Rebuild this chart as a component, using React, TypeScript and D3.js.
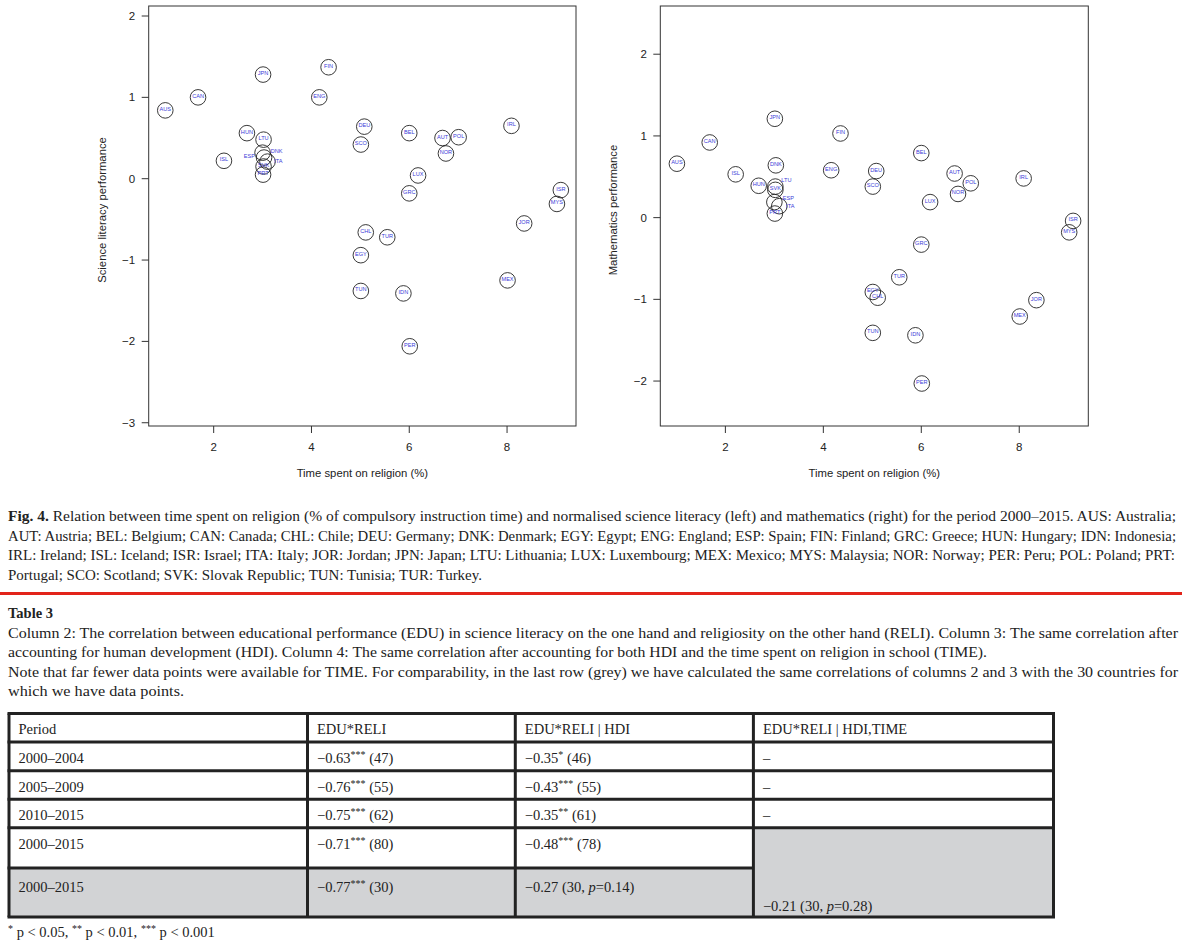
import React from 'react';
import * as d3 from 'd3';

const W = 1182;
const H = 951;

// ---- scatter data ----
const countries = ["AUS","CAN","JPN","FIN","ENG","HUN","LTU","ISL","ESP","DNK","ITA","SVK","PRT","DEU","SCO","BEL","AUT","POL","NOR","IRL","LUX","GRC","ISR","MYS","JOR","CHL","TUR","EGY","MEX","TUN","IDN","PER"];
const timeOnReligion = [1.01,1.68,3.01,4.35,4.16,2.68,3.02,2.21,3.0,3.03,3.1,3.02,3.01,5.08,5.01,6.0,6.68,7.01,6.75,8.09,6.18,6.0,9.1,9.02,8.35,5.11,5.55,5.01,8.01,5.01,5.88,6.01];
const sciencePerf = [0.84,1.0,1.28,1.37,1.0,0.56,0.48,0.22,0.32,0.26,0.21,0.15,0.05,0.64,0.42,0.56,0.50,0.51,0.31,0.65,0.04,-0.18,-0.14,-0.31,-0.55,-0.66,-0.72,-0.94,-1.25,-1.38,-1.41,-2.06];
const mathPerf = [0.66,0.92,1.21,1.03,0.58,0.39,0.38,0.53,0.19,0.64,0.14,0.34,0.05,0.57,0.38,0.79,0.54,0.42,0.29,0.48,0.19,-0.33,-0.04,-0.18,-1.01,-0.98,-0.73,-0.91,-1.21,-1.41,-1.44,-2.03];
const xTicks = [2,4,6,8];
const sciYTicks = [-3,-2,-1,0,1,2];
const mathYTicks = [-2,-1,0,1,2];

// label nudges (px) for crowded points
const sciNudge: Record<string, [number, number]> = { DNK: [12.6,-7], ESP: [-13.3,3], ITA: [11,-1] };
const mathNudge: Record<string, [number, number]> = { LTU: [11,-6.4], ESP: [14,-4], ITA: [11,-0.6] };

// ---- caption / table text ----
const captionLines = [
  "Relation between time spent on religion (% of compulsory instruction time) and normalised science literacy (left) and mathematics (right) for the period 2000–2015. AUS: Australia;",
  "AUT: Austria; BEL: Belgium; CAN: Canada; CHL: Chile; DEU: Germany; DNK: Denmark; EGY: Egypt; ENG: England; ESP: Spain; FIN: Finland; GRC: Greece; HUN: Hungary; IDN: Indonesia;",
  "IRL: Ireland; ISL: Iceland; ISR: Israel; ITA: Italy; JOR: Jordan; JPN: Japan; LTU: Lithuania; LUX: Luxembourg; MEX: Mexico; MYS: Malaysia; NOR: Norway; PER: Peru; POL: Poland; PRT:",
  "Portugal; SCO: Scotland; SVK: Slovak Republic; TUN: Tunisia; TUR: Turkey."
];
const captionWidths = [1168, 1168, 1167, 474];
const tableDescLines = [
  "Column 2: The correlation between educational performance (EDU) in science literacy on the one hand and religiosity on the other hand (RELI). Column 3: The same correlation after",
  "accounting for human development (HDI). Column 4: The same correlation after accounting for both HDI and the time spent on religion in school (TIME).",
  "Note that far fewer data points were available for TIME. For comparability, in the last row (grey) we have calculated the same correlations of columns 2 and 3 with the 30 countries for",
  "which we have data points."
];
const tableDescWidths = [1170, 979, 1170, 176];

const headers = ["Period", "EDU*RELI", "EDU*RELI | HDI", "EDU*RELI | HDI,TIME"];
const periods = ["2000–2004","2005–2009","2010–2015","2000–2015","2000–2015"];
const reliR = [-0.63,-0.76,-0.75,-0.71,-0.77];
const reliStars = ["***","***","***","***","***"];
const reliN = [47,55,62,80,30];
const hdiR = [-0.35,-0.43,-0.35,-0.48,-0.27];
const hdiStars = ["*","***","**","***",""];
const hdiN = [46,55,61,78,30];
const hdiP = [null,null,null,null,0.14];
const timeR = [null,null,null];
const mergedTimeR = -0.21;
const mergedTimeN = 30;
const mergedTimeP = 0.28;

const fmt = d3.format(".2f");
const sans = "'Liberation Sans', Arial, Helvetica, sans-serif";
const serif = "'Liberation Serif', 'Times New Roman', serif";
const ink = "#222";

function Scatter({ left, right, yDomain, yTicks, values, nudge, yTitle }: any) {
  const top = 6, bottom = 426;
  const x = d3.scaleLinear().domain([0.671, 9.41]).range([left, right]);
  const y = d3.scaleLinear().domain(yDomain).range([bottom, top]);
  const yfmt = d3.format("d");
  return (
    <g>
      <rect x={left} y={top} width={right - left} height={bottom - top} fill="none" stroke="#333" strokeWidth={1} />
      {xTicks.map(t => (
        <g key={"x" + t}>
          <line x1={x(t)} x2={x(t)} y1={bottom} y2={bottom + 7} stroke="#333" />
          <text x={x(t)} y={447} textAnchor="middle" dominantBaseline="central" fontFamily={sans} fontSize={11.5} fill={ink}>{yfmt(t)}</text>
        </g>
      ))}
      {yTicks.map((t: number) => (
        <g key={"y" + t}>
          <line x1={left - 7} x2={left} y1={y(t)} y2={y(t)} stroke="#333" />
          <text x={left - 13.5} y={y(t)} textAnchor="end" dominantBaseline="central" fontFamily={sans} fontSize={11.5} fill={ink}>{yfmt(t)}</text>
        </g>
      ))}
      <text x={(left + right) / 2} y={473} textAnchor="middle" dominantBaseline="central" fontFamily={sans} fontSize={11.3} fill={ink}>Time spent on religion (%)</text>
      <text transform={`translate(${left - 47},210) rotate(-90)`} textAnchor="middle" dominantBaseline="central" fontFamily={sans} fontSize={11.3} fill={ink}>{yTitle}</text>
      {countries.map((c, i) => (
        <circle key={"c" + c} cx={x(timeOnReligion[i])} cy={y(values[i])} r={7.8} fill="none" stroke="#222" strokeWidth={0.9} />
      ))}
      {countries.map((c, i) => {
        const n = nudge[c] || [0, -1.5];
        return (
          <text key={"t" + c} x={x(timeOnReligion[i]) + n[0]} y={y(values[i]) + n[1]} textAnchor="middle" dominantBaseline="central" fontFamily={sans} fontSize={5.6} fill="#3b3bd8">{c}</text>
        );
      })}
    </g>
  );
}

function Sup({ base, stars, rest }: any) {
  return (
    <>
      {base}
      {stars ? <tspan fontSize={10} dy={-5}>{stars}</tspan> : null}
      {stars ? <tspan dy={5}>{rest}</tspan> : <tspan>{rest}</tspan>}
    </>
  );
}

function Table() {
  const colX = [9, 307.5, 515.3, 753.4, 1053.5];
  const rowY = [713.5, 742, 770.7, 799.2, 827.7, 868, 917];
  const textBase = [734, 763, 791.5, 820, 849.3, 891.7];
  const grey = "#d2d3d5";
  const fs = 14.5;
  const lw = 3;
  const cellText = (col: number, row: number, content: any) => (
    <text key={`ct${col}-${row}`} x={colX[col] + 9.5} y={textBase[row]} fontFamily={serif} fontSize={fs} fill={ink}>{content}</text>
  );
  return (
    <g>
      {/* grey fills */}
      <rect x={colX[0]} y={rowY[5]} width={colX[3] - colX[0]} height={rowY[6] - rowY[5]} fill={grey} />
      <rect x={colX[3]} y={rowY[4]} width={colX[4] - colX[3]} height={rowY[6] - rowY[4]} fill={grey} />
      {/* horizontal lines */}
      {rowY.map((yy, i) => (
        <line key={"h" + i} x1={colX[0] - lw / 2} x2={i === 5 ? colX[3] : colX[4] + lw / 2} y1={yy} y2={yy} stroke={ink} strokeWidth={lw} />
      ))}
      {/* vertical lines */}
      {colX.map((xx, i) => (
        <line key={"v" + i} x1={xx} x2={xx} y1={rowY[0]} y2={rowY[6]} stroke={ink} strokeWidth={lw} />
      ))}
      {headers.map((h, i) => cellText(i, 0, h))}
      {periods.map((p, r) => cellText(0, r + 1, p))}
      {reliR.map((v, r) => cellText(1, r + 1, <Sup base={fmt(v)} stars={reliStars[r]} rest={` (${reliN[r]})`} />))}
      {hdiR.map((v, r) => cellText(2, r + 1,
        hdiP[r] == null
          ? <Sup base={fmt(v)} stars={hdiStars[r]} rest={` (${hdiN[r]})`} />
          : <>{fmt(v)} ({hdiN[r]}, <tspan fontStyle="italic">p</tspan>={hdiP[r]})</>
      ))}
      {timeR.map((v, r) => cellText(3, r + 1, v == null ? "–" : fmt(v)))}
      <text x={colX[3] + 9.5} y={910.7} fontFamily={serif} fontSize={fs} fill={ink}>
        {fmt(mergedTimeR)} ({mergedTimeN}, <tspan fontStyle="italic">p</tspan>={mergedTimeP})
      </text>
    </g>
  );
}

export default function App() {
  const capBase = [521, 540.5, 560, 579.5];
  const descBase = [637.5, 657, 676.5, 696];
  return (
    <svg width={W} height={H} viewBox={`0 0 ${W} ${H}`} style={{ position: 'absolute', left: 0, top: 0, background: '#fff' }}>
      <rect x={0} y={0} width={W} height={H} fill="#fff" />
      <Scatter left={148.7} right={576} yDomain={[-3.04, 2.123]} yTicks={sciYTicks} values={sciencePerf} nudge={sciNudge} yTitle="Science literacy performance" />
      <Scatter left={660.3} right={1088.3} yDomain={[-2.55, 2.59]} yTicks={mathYTicks} values={mathPerf} nudge={mathNudge} yTitle="Mathematics performance" />
      {captionLines.map((l, i) => (
        <text key={"cap" + i} x={8} y={capBase[i]} fontFamily={serif} fontSize={14.5} fill={ink} textLength={captionWidths[i]} lengthAdjust="spacingAndGlyphs">
          {i === 0 ? <><tspan fontWeight="bold">Fig. 4.</tspan>{" " + l}</> : l}
        </text>
      ))}
      <line x1={0} x2={W} y1={593.5} y2={593.5} stroke="#e2231a" strokeWidth={3} />
      <text x={8} y={618} fontFamily={serif} fontSize={14.5} fontWeight="bold" fill={ink}>Table 3</text>
      {tableDescLines.map((l, i) => (
        <text key={"desc" + i} x={8} y={descBase[i]} fontFamily={serif} fontSize={14.5} fill={ink} textLength={tableDescWidths[i]} lengthAdjust="spacingAndGlyphs">{l}</text>
      ))}
      <Table />
      <text x={8} y={937} fontFamily={serif} fontSize={14.5} fill={ink}>
        <tspan fontSize={10} dy={-5}>*</tspan><tspan dy={5}> p &lt; 0.05, </tspan>
        <tspan fontSize={10} dy={-5}>**</tspan><tspan dy={5}> p &lt; 0.01, </tspan>
        <tspan fontSize={10} dy={-5}>***</tspan><tspan dy={5}> p &lt; 0.001</tspan>
      </text>
    </svg>
  );
}
